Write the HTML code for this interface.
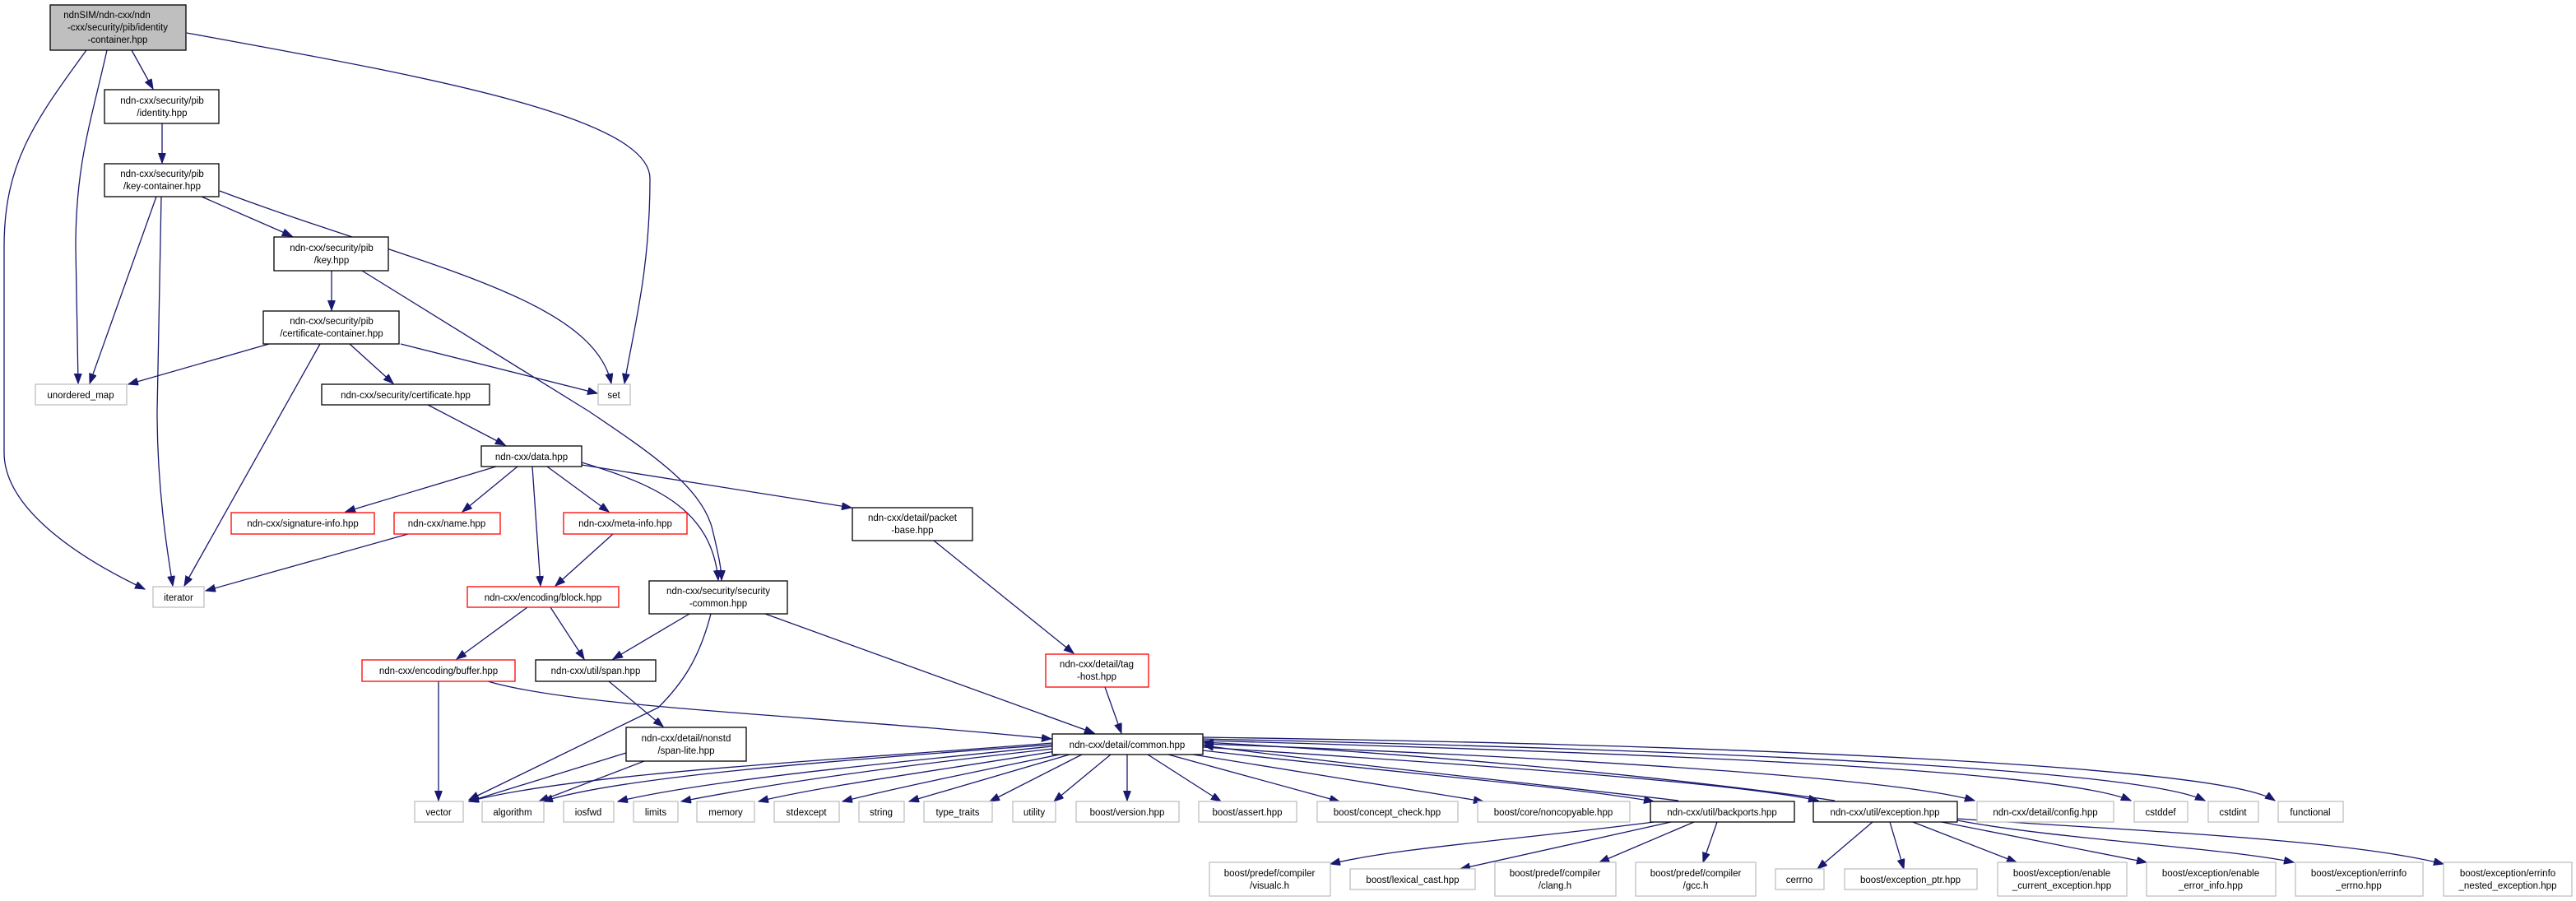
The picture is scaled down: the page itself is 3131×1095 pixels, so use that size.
<!DOCTYPE html>
<html><head><meta charset="utf-8"><style>
html,body{margin:0;padding:0;background:#fff}
svg{display:block}
text{font-family:"Liberation Sans",Arial,sans-serif;font-size:11.5px;fill:#000;text-anchor:middle}
.e{fill:none;stroke:#191970;stroke-width:1.3}
.b{fill:#fff;stroke:#000;stroke-width:1.3}
.g{fill:#fff;stroke:#bfbfbf;stroke-width:1.3}
.r{fill:#fff;stroke:#ff0000;stroke-width:1.3}
</style></head><body>
<svg width="3131" height="1095" viewBox="0 0 3131 1095" xmlns="http://www.w3.org/2000/svg">
<defs><marker id="a" markerUnits="userSpaceOnUse" markerWidth="13" markerHeight="10" refX="12" refY="4.5" orient="auto"><path d="M0,0 L12,4.5 L0,9 z" fill="#191970" stroke="#191970"/></marker></defs>
<g marker-end="url(#a)">
<path class="e" d="M105,61 C40,150 5,200 5,300 L5,550 C5,620 100,680 176,716"/>
<path class="e" d="M130,61 C110,150 92,200 92,300 L95,466"/>
<path class="e" d="M160,61 L186,108"/>
<path class="e" d="M227,40 C500,90 790,140 790,217 C790,330 770,400 759,466"/>
<path class="e" d="M197,150 L197,198"/>
<path class="e" d="M190,239 L109,466"/>
<path class="e" d="M196,239 L191,500 C191,600 205,680 210,712"/>
<path class="e" d="M245,239 L355,287"/>
<path class="e" d="M267,232 C500,320 720,360 743,466"/>
<path class="e" d="M403,329 L403,377"/>
<path class="e" d="M440,329 L716,500 C790,550 850,590 865,640 C875,680 877,695 877,705"/>
<path class="e" d="M327,418 L156,467"/>
<path class="e" d="M389,418 L224,712"/>
<path class="e" d="M425,418 L478,466"/>
<path class="e" d="M487,418 L726,478"/>
<path class="e" d="M520,492 L614,541"/>
<path class="e" d="M603,567 L420,622"/>
<path class="e" d="M629,567 L562,622"/>
<path class="e" d="M647,567 L657,712"/>
<path class="e" d="M665,567 L740,622"/>
<path class="e" d="M707,562 C800,590 865,620 873,705"/>
<path class="e" d="M707,565 L1035,617"/>
<path class="e" d="M496,649 L250,718"/>
<path class="e" d="M745,649 L675,712"/>
<path class="e" d="M641,738 L555,801"/>
<path class="e" d="M669,738 L710,801"/>
<path class="e" d="M838,746 L745,801"/>
<path class="e" d="M864,746 C850,800 830,830 800,860 L570,972"/>
<path class="e" d="M930,746 L1330,891"/>
<path class="e" d="M1135,657 L1305,794"/>
<path class="e" d="M1343,835 L1363,891"/>
<path class="e" d="M533,828 L533,973"/>
<path class="e" d="M593,828 C700,860 1000,870 1278,898"/>
<path class="e" d="M740,828 L806,883"/>
<path class="e" d="M761,915 L570,974"/>
<path class="e" d="M783,925 L655,974"/>
<path class="e" d="M1279,903 C1000,925 700,940 570,974"/>
<path class="e" d="M1279,905 C1000,925 750,945 660,974"/>
<path class="e" d="M1279,907 C1050,930 850,950 751,974"/>
<path class="e" d="M1280,910 C1100,930 950,950 828,974"/>
<path class="e" d="M1283,913 C1150,935 1000,955 922,974"/>
<path class="e" d="M1288,917 C1200,935 1100,955 1024,974"/>
<path class="e" d="M1300,917 L1105,974"/>
<path class="e" d="M1315,917 L1203,974"/>
<path class="e" d="M1350,917 L1281,974"/>
<path class="e" d="M1370,917 L1370,973"/>
<path class="e" d="M1395,917 L1484,974"/>
<path class="e" d="M1420,917 L1628,974"/>
<path class="e" d="M1450,917 L1803,974"/>
<path class="e" d="M1462,912 C1700,940 1900,955 2010,974"/>
<path class="e" d="M1462,908 C1800,930 2100,950 2210,973"/>
<path class="e" d="M1462,904 C1900,920 2300,945 2400,973"/>
<path class="e" d="M1462,900 C2000,915 2500,935 2590,973"/>
<path class="e" d="M1462,898 C2100,912 2600,935 2680,973"/>
<path class="e" d="M1462,896 C2100,905 2700,930 2765,973"/>
<path class="e" d="M2040,973 C1800,945 1600,925 1463,906"/>
<path class="e" d="M2230,973 C2000,940 1700,915 1463,902"/>
<path class="e" d="M2010,999 C1850,1020 1700,1030 1617,1050"/>
<path class="e" d="M2031,999 L1775,1056"/>
<path class="e" d="M2059,999 L1944,1048"/>
<path class="e" d="M2087,999 L2070,1048"/>
<path class="e" d="M2276,999 L2209,1056"/>
<path class="e" d="M2297,999 L2314,1056"/>
<path class="e" d="M2325,999 L2451,1048"/>
<path class="e" d="M2360,999 L2609,1048"/>
<path class="e" d="M2379,997 C2500,1020 2700,1030 2788,1048"/>
<path class="e" d="M2379,995 C2600,1010 2850,1020 2970,1050"/>
</g>
<rect x="61" y="6" width="165" height="55" fill="#bfbfbf" stroke="#000" stroke-width="1.3"/>
<text x="130" y="22">ndnSIM/ndn-cxx/ndn</text><text x="143" y="37">-cxx/security/pib/identity</text><text x="143" y="52">-container.hpp</text>
<rect class="b" x="127" y="109" width="139" height="41"/><text x="197" y="126">ndn-cxx/security/pib</text><text x="197" y="141">/identity.hpp</text>
<rect class="b" x="127" y="199" width="139" height="40"/><text x="197" y="215">ndn-cxx/security/pib</text><text x="197" y="230">/key-container.hpp</text>
<rect class="b" x="333" y="288" width="139" height="41"/><text x="403" y="305">ndn-cxx/security/pib</text><text x="403" y="320">/key.hpp</text>
<rect class="b" x="320" y="378" width="165" height="40"/><text x="403" y="394">ndn-cxx/security/pib</text><text x="403" y="409">/certificate-container.hpp</text>
<rect class="g" x="43" y="467" width="111" height="25"/><text x="98" y="484">unordered_map</text>
<rect class="b" x="391" y="467" width="204" height="25"/><text x="493" y="484">ndn-cxx/security/certificate.hpp</text>
<rect class="g" x="727" y="467" width="39" height="25"/><text x="746" y="484">set</text>
<rect class="b" x="585" y="542" width="122" height="25"/><text x="646" y="559">ndn-cxx/data.hpp</text>
<rect class="r" x="281" y="623" width="174" height="26"/><text x="368" y="640">ndn-cxx/signature-info.hpp</text>
<rect class="r" x="479" y="623" width="129" height="26"/><text x="543" y="640">ndn-cxx/name.hpp</text>
<rect class="r" x="685" y="623" width="150" height="26"/><text x="760" y="640">ndn-cxx/meta-info.hpp</text>
<rect class="b" x="1036" y="617" width="146" height="40"/><text x="1109" y="633">ndn-cxx/detail/packet</text><text x="1109" y="648">-base.hpp</text>
<rect class="g" x="186" y="713" width="62" height="25"/><text x="217" y="730">iterator</text>
<rect class="r" x="568" y="713" width="184" height="25"/><text x="660" y="730">ndn-cxx/encoding/block.hpp</text>
<rect class="b" x="789" y="706" width="168" height="40"/><text x="873" y="722">ndn-cxx/security/security</text><text x="873" y="737">-common.hpp</text>
<rect class="r" x="440" y="802" width="186" height="26"/><text x="533" y="819">ndn-cxx/encoding/buffer.hpp</text>
<rect class="b" x="651" y="802" width="146" height="26"/><text x="724" y="819">ndn-cxx/util/span.hpp</text>
<rect class="r" x="1271" y="795" width="125" height="40"/><text x="1333" y="811">ndn-cxx/detail/tag</text><text x="1333" y="826">-host.hpp</text>
<rect class="b" x="761" y="884" width="146" height="41"/><text x="834" y="901">ndn-cxx/detail/nonstd</text><text x="834" y="916">/span-lite.hpp</text>
<rect class="b" x="1279" y="892" width="183" height="25"/><text x="1370" y="909">ndn-cxx/detail/common.hpp</text>
<g>
<rect class="g" x="504" y="974" width="59" height="25"/><text x="533" y="991">vector</text>
<rect class="g" x="586" y="974" width="75" height="25"/><text x="623" y="991">algorithm</text>
<rect class="g" x="685" y="974" width="61" height="25"/><text x="715" y="991">iosfwd</text>
<rect class="g" x="770" y="974" width="54" height="25"/><text x="797" y="991">limits</text>
<rect class="g" x="847" y="974" width="70" height="25"/><text x="882" y="991">memory</text>
<rect class="g" x="941" y="974" width="79" height="25"/><text x="980" y="991">stdexcept</text>
<rect class="g" x="1044" y="974" width="55" height="25"/><text x="1071" y="991">string</text>
<rect class="g" x="1123" y="974" width="83" height="25"/><text x="1164" y="991">type_traits</text>
<rect class="g" x="1231" y="974" width="52" height="25"/><text x="1257" y="991">utility</text>
<rect class="g" x="1308" y="974" width="125" height="25"/><text x="1370" y="991">boost/version.hpp</text>
<rect class="g" x="1457" y="974" width="119" height="25"/><text x="1516" y="991">boost/assert.hpp</text>
<rect class="g" x="1601" y="974" width="171" height="25"/><text x="1686" y="991">boost/concept_check.hpp</text>
<rect class="g" x="1796" y="974" width="185" height="25"/><text x="1888" y="991">boost/core/noncopyable.hpp</text>
<rect class="b" x="2006" y="974" width="175" height="25"/><text x="2093" y="991">ndn-cxx/util/backports.hpp</text>
<rect class="b" x="2204" y="974" width="175" height="25"/><text x="2291" y="991">ndn-cxx/util/exception.hpp</text>
<rect class="g" x="2403" y="974" width="166" height="25"/><text x="2486" y="991">ndn-cxx/detail/config.hpp</text>
<rect class="g" x="2594" y="974" width="65" height="25"/><text x="2626" y="991">cstddef</text>
<rect class="g" x="2684" y="974" width="61" height="25"/><text x="2714" y="991">cstdint</text>
<rect class="g" x="2769" y="974" width="79" height="25"/><text x="2808" y="991">functional</text>
</g>
<g>
<rect class="g" x="1470" y="1048" width="147" height="41"/><text x="1543" y="1065">boost/predef/compiler</text><text x="1543" y="1080">/visualc.h</text>
<rect class="g" x="1641" y="1056" width="152" height="25"/><text x="1717" y="1073">boost/lexical_cast.hpp</text>
<rect class="g" x="1817" y="1048" width="147" height="41"/><text x="1890" y="1065">boost/predef/compiler</text><text x="1890" y="1080">/clang.h</text>
<rect class="g" x="1988" y="1048" width="146" height="41"/><text x="2061" y="1065">boost/predef/compiler</text><text x="2061" y="1080">/gcc.h</text>
<rect class="g" x="2158" y="1056" width="59" height="25"/><text x="2187" y="1073">cerrno</text>
<rect class="g" x="2242" y="1056" width="161" height="25"/><text x="2322" y="1073">boost/exception_ptr.hpp</text>
<rect class="g" x="2428" y="1048" width="157" height="41"/><text x="2506" y="1065">boost/exception/enable</text><text x="2506" y="1080">_current_exception.hpp</text>
<rect class="g" x="2609" y="1048" width="157" height="41"/><text x="2687" y="1065">boost/exception/enable</text><text x="2687" y="1080">_error_info.hpp</text>
<rect class="g" x="2790" y="1048" width="155" height="41"/><text x="2867" y="1065">boost/exception/errinfo</text><text x="2867" y="1080">_errno.hpp</text>
<rect class="g" x="2970" y="1048" width="156" height="41"/><text x="3048" y="1065">boost/exception/errinfo</text><text x="3048" y="1080">_nested_exception.hpp</text>
</g>
</svg>
</body></html>
